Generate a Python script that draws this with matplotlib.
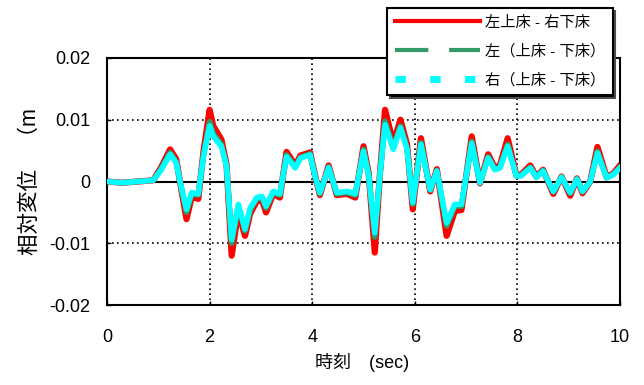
import matplotlib.pyplot as plt
from matplotlib.lines import Line2D

plt.rcParams['font.family'] = ['Liberation Sans', 'Noto Sans CJK JP', 'DejaVu Sans']

# 時刻 (sec)
t = [0.0, 0.3, 0.6, 0.9, 1.05, 1.23, 1.35, 1.45, 1.55, 1.65, 1.78, 1.88, 2.0, 2.07,
     2.23, 2.33, 2.43, 2.56, 2.69, 2.79, 2.92, 3.02, 3.1, 3.24, 3.37, 3.5, 3.67, 3.77,
     3.96, 4.05, 4.15, 4.32, 4.48, 4.68, 4.84, 5.0, 5.1, 5.22, 5.32, 5.42, 5.58, 5.72,
     5.85, 5.96, 6.12, 6.3, 6.43, 6.62, 6.78, 6.91, 7.11, 7.27, 7.43, 7.56, 7.66, 7.81,
     7.98, 8.07, 8.25, 8.37, 8.5, 8.7, 8.86, 9.03, 9.16, 9.27, 9.42, 9.56, 9.74, 9.87, 10.0]

# 左上床 - 右下床
rel_lr = [0.0, -0.0002, 0.0, 0.0002, 0.0022, 0.0052, 0.0036, -0.0014, -0.0061, -0.0025,
          -0.0028, 0.0048, 0.0116, 0.0090, 0.0068, 0.0028, -0.0120, -0.0048, -0.0088, -0.0052,
          -0.0032, -0.0030, -0.0050, -0.0020, -0.0026, 0.0048, 0.0026, 0.0042, 0.0047, 0.0012,
          -0.0022, 0.0026, -0.0022, -0.0020, -0.0026, 0.0057, 0.0014, -0.0115, 0.0012, 0.0116,
          0.0062, 0.0100, 0.0060, -0.0045, 0.0070, -0.0016, 0.0020, -0.0088, -0.0048, -0.0046,
          0.0073, -0.0003, 0.0044, 0.0022, 0.0026, 0.0070, 0.0010, 0.0011, 0.0026, 0.0008,
          0.0019, -0.0020, 0.0008, -0.0023, 0.0005, -0.0019, 0.0000, 0.0056, 0.0007, 0.0013, 0.0026]

# 左（上床 - 下床）
rel_l = [0.0, -0.0002, 0.0, 0.0002, 0.0020, 0.0047, 0.0032, -0.0012, -0.0050, -0.0020,
         -0.0022, 0.0043, 0.0097, 0.0078, 0.0060, 0.0026, -0.0100, -0.0040, -0.0080, -0.0046,
         -0.0028, -0.0026, -0.0043, -0.0018, -0.0022, 0.0043, 0.0023, 0.0039, 0.0045, 0.0011,
         -0.0020, 0.0024, -0.0020, -0.0018, -0.0022, 0.0052, 0.0012, -0.0090, 0.0011, 0.0098,
         0.0055, 0.0090, 0.0055, -0.0037, 0.0063, -0.0014, 0.0018, -0.0072, -0.0040, -0.0040,
         0.0065, -0.0002, 0.0040, 0.0020, 0.0023, 0.0060, 0.0009, 0.0010, 0.0023, 0.0007,
         0.0018, -0.0017, 0.0007, -0.0019, 0.0004, -0.0017, 0.0000, 0.0049, 0.0006, 0.0012, 0.0023]

# 右（上床 - 下床）
rel_r = [0.0, -0.0002, 0.0, 0.0002, 0.0018, 0.0044, 0.0030, -0.0010, -0.0045, -0.0018,
         -0.0020, 0.0040, 0.0090, 0.0073, 0.0057, 0.0025, -0.0094, -0.0037, -0.0077, -0.0043,
         -0.0026, -0.0024, -0.0040, -0.0016, -0.0020, 0.0040, 0.0022, 0.0038, 0.0043, 0.0010,
         -0.0018, 0.0022, -0.0018, -0.0016, -0.0020, 0.0049, 0.0010, -0.0083, 0.0010, 0.0092,
         0.0052, 0.0087, 0.0052, -0.0034, 0.0060, -0.0013, 0.0017, -0.0067, -0.0037, -0.0037,
         0.0062, -0.0002, 0.0038, 0.0019, 0.0022, 0.0057, 0.0009, 0.0009, 0.0022, 0.0007,
         0.0017, -0.0016, 0.0007, -0.0018, 0.0004, -0.0016, 0.0000, 0.0046, 0.0006, 0.0011, 0.0022]

labels = ['左上床 - 右下床', '左（上床 - 下床）', '右（上床 - 下床）']

fig = plt.figure(figsize=(6.44, 3.85), dpi=100)
ax = fig.add_axes([107/644, 80/385, 513/644, 247/385])

ax.axhline(0, color='black', lw=1.5, zorder=1)
ax.plot(t, rel_lr, color='#ff0000', lw=4.5, solid_joinstyle='round', zorder=2)
ax.plot(t, rel_l, color='#339966', lw=4, solid_joinstyle='round', zorder=3)
ax.plot(t, rel_r, color='#00ffff', lw=4, solid_joinstyle='round', zorder=4)

ax.set_xlim(0, 10)
ax.set_ylim(-0.02, 0.02)
ax.set_xticks([0, 2, 4, 6, 8, 10])
ax.set_yticks([-0.02, -0.01, 0, 0.01, 0.02])
ax.set_yticklabels(['-0.02', '-0.01', '0', '0.01', '0.02'])
ax.tick_params(direction='in', length=3, width=1, labelsize=13, pad=12)
ax.tick_params(axis='x', pad=17)
for s in ax.spines.values():
    s.set_linewidth(1.5)

# グリッド（点線）
for x in [2, 4, 6, 8]:
    ax.axvline(x, color='black', lw=1.2, ls=(0, (1, 2)), zorder=0)
for y in [-0.01, 0.01]:
    ax.axhline(y, color='black', lw=1.2, ls=(0, (1, 2)), zorder=0)

fig.text(30/644, 1 - 182/385, '相対変位　（m', rotation=90, ha='center', va='center', fontsize=15.5)
fig.text(362/644, 1 - 362/385, '時刻　(sec)', ha='center', va='center', fontsize=13)

# 凡例
handles = [Line2D([], [], color='#ff0000', lw=3),
           Line2D([], [], color='#339966', lw=3, ls=(0, (8, 5))),
           Line2D([], [], color='#00ffff', lw=5, ls=(0, (1.5, 3.5)))]
leg = ax.legend(handles, labels, loc='upper left', bbox_to_anchor=(387/644, 1 - 8/385),
                bbox_transform=fig.transFigure, borderaxespad=0, fontsize=11,
                handlelength=5.6, handletextpad=0.3, labelspacing=0.95, borderpad=0.5,
                fancybox=False, framealpha=1, edgecolor='black',
                shadow={'facecolor': 'black', 'alpha': 1})
leg.get_frame().set_linewidth(1.5)
leg.set_zorder(10)

plt.savefig('out.png', dpi=100)
